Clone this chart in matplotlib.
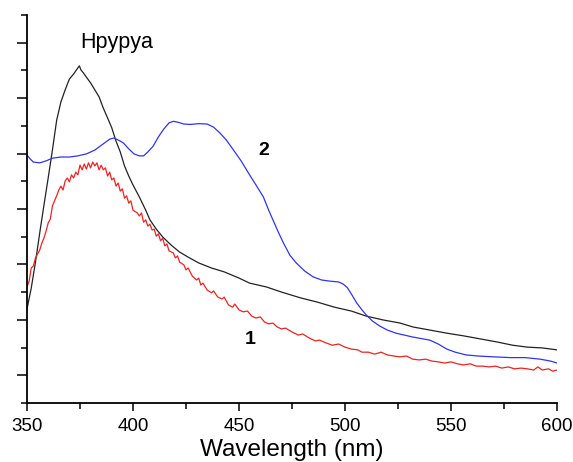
import numpy as np
import matplotlib
matplotlib.use("Agg")
import matplotlib.pyplot as plt
from matplotlib.ticker import MultipleLocator

plt.rcParams['font.family'] = ['Liberation Sans', 'DejaVu Sans']

# curve 0 - black (reference sample), intensity in arbitrary units
wl_black = [350, 352, 354, 356, 358, 360, 362, 364, 366, 368, 370, 372, 373, 374.7, 375.5,
            376.6, 378, 380, 382, 384, 386, 388, 390, 392, 394, 396, 398, 400, 403, 406,
            408, 411, 414, 418, 422, 426, 431, 437, 443, 450, 455, 463, 470, 479, 487,
            495, 503, 510, 518, 526, 532, 540, 548, 556, 564, 572, 579, 586, 593, 600]
int_black = [24.2, 29.6, 36.3, 43.8, 51.0, 58.0, 65.2, 72.9, 77.6, 80.7, 83.5, 84.8, 85.6, 86.9, 85.8,
             85.1, 84.0, 82.5, 80.7, 78.9, 76.0, 73.5, 70.9, 67.5, 64.7, 61.1, 58.5, 56.2, 53.1, 49.7,
             47.2, 44.8, 42.8, 40.7, 38.9, 37.6, 36.1, 34.8, 33.8, 32.2, 30.9, 29.9, 28.6, 27.1, 26.0,
             24.7, 23.7, 22.4, 21.4, 20.6, 19.6, 18.8, 18.0, 17.3, 16.5, 15.7, 14.9, 14.4, 14.2, 13.7]

# curve 2 - blue
wl_blue = [350, 351.5, 353, 356, 359, 362, 366, 370, 374, 378, 382, 386, 389, 391, 393,
           395.5, 398, 400.5, 403, 405, 407, 409.5, 412, 414.5, 417, 419, 421, 424, 427, 431,
           435, 438, 441, 444, 447, 451, 455, 458, 461.5, 464, 466, 468.5, 471, 474, 477,
           481, 485, 489, 493, 497, 499, 501, 503, 505.5, 508, 510, 513, 516.5, 520, 524,
           528, 532, 536, 540, 544, 548, 552, 557, 563, 570, 578, 585, 592, 597, 600]
int_blue = [63.9, 62.9, 62.1, 61.9, 62.4, 63.1, 63.4, 63.4, 63.7, 64.2, 65.2, 66.8, 68.0, 68.3, 67.8,
            67.0, 65.5, 64.2, 63.7, 63.7, 64.7, 66.2, 68.6, 70.6, 72.2, 72.6, 72.4, 71.9, 71.8, 72.0,
            71.9, 71.1, 69.6, 67.8, 65.5, 62.4, 58.8, 56.2, 53.1, 49.7, 47.2, 44.1, 41.2, 38.1, 36.1,
            34.0, 32.5, 31.7, 31.4, 31.2, 30.7, 29.8, 28.1, 25.8, 24.0, 22.7, 21.1, 19.8, 18.8, 18.0,
            17.5, 17.0, 16.6, 16.2, 15.2, 13.9, 13.1, 12.4, 12.1, 11.9, 11.7, 11.7, 11.3, 10.8, 10.3]

# curve 1 - red (noisy)
wl_red = [350, 351, 352, 353, 354, 355, 356, 357, 358, 359, 360, 361, 362, 363, 364,
          365, 366, 367, 368, 369, 370, 371, 372, 373, 374, 375, 376, 377, 378, 379,
          380, 381, 382, 383, 384, 385, 386, 387, 388, 389, 390, 391, 392, 393, 394,
          395, 396, 397, 398, 399, 400, 402, 403, 404, 405, 406, 407, 408, 409, 410,
          411, 412, 413, 414, 415, 416, 417, 419, 420, 421, 422, 424, 425, 426, 428,
          430, 431, 432, 433, 435, 437, 438, 440, 442, 443, 445, 447, 448, 450, 452,
          454, 456, 458, 460, 462, 464, 466, 468, 470, 472, 475, 478, 480, 483, 486,
          488, 491, 494, 497, 500, 503, 506, 508, 511, 514, 517, 520, 523, 526, 529,
          532, 535, 538, 541, 544, 547, 550, 553, 556, 559, 562, 565, 568, 571, 574,
          577, 580, 583, 586, 589, 591, 593, 596, 598, 600]
int_red = [29.9, 31.4, 34.8, 35.3, 37.4, 38.4, 39.4, 41.2, 42.5, 44.3, 46.4, 47.4, 50.8, 52.1, 53.4,
           54.9, 55.9, 54.9, 57.2, 58.0, 57.0, 58.8, 58.0, 59.5, 58.8, 61.3, 60.1, 61.6, 60.3, 61.9,
           60.6, 62.1, 61.1, 61.9, 60.1, 61.3, 60.1, 60.6, 58.5, 59.5, 57.5, 58.0, 55.9, 56.7, 54.6,
           55.2, 52.8, 53.4, 51.5, 52.1, 49.7, 49.0, 48.2, 49.0, 46.6, 47.2, 45.6, 46.1, 44.6, 44.8,
           43.0, 43.6, 41.8, 42.5, 40.5, 41.0, 39.2, 38.7, 37.4, 37.9, 36.3, 35.6, 34.3, 34.8, 32.7,
           31.7, 32.2, 30.4, 30.9, 29.1, 28.4, 28.9, 27.3, 26.8, 27.3, 25.3, 24.7, 25.5, 24.0, 23.5,
           23.7, 22.4, 21.9, 22.2, 20.9, 20.4, 20.6, 19.6, 19.1, 19.3, 18.3, 17.5, 17.8, 16.8, 16.0,
           16.2, 15.5, 14.9, 15.2, 14.4, 13.9, 13.7, 13.1, 13.1, 12.6, 13.1, 12.4, 12.1, 11.9, 12.1,
           11.3, 11.1, 11.3, 10.8, 10.6, 10.3, 10.6, 10.1, 9.8, 10.1, 9.5, 9.5, 9.3, 9.5, 9.0,
           9.3, 8.8, 9.0, 8.8, 8.5, 9.3, 8.5, 8.8, 8.2, 8.5]

fig = plt.figure(figsize=(5.73, 4.62), dpi=100)
ax = fig.add_axes([0.0471, 0.1277, 0.925, 0.8398])

ax.plot(wl_black, int_black, color='#222222', lw=0.9)
ax.plot(wl_blue, int_blue, color='#3333ee', lw=0.9)
ax.plot(wl_red, int_red, color='#ee2222', lw=0.9)

ax.set_xlim(350, 600)
ax.set_ylim(0, 100)
ax.xaxis.set_major_locator(MultipleLocator(50))
ax.xaxis.set_minor_locator(MultipleLocator(25))
step = 100 / 14
ax.set_yticks([step * k for k in range(1, 14, 2)])
ax.set_yticks([step * k for k in range(0, 15, 2)], minor=True)
ax.set_yticklabels([])

for s in ['top', 'right']:
    ax.spines[s].set_visible(False)
for s in ['left', 'bottom']:
    ax.spines[s].set_linewidth(1.3)

ax.tick_params(axis='x', which='major', direction='out', length=6, width=1.1, labelsize=13.5, pad=5)
ax.tick_params(axis='x', which='minor', direction='out', length=4, width=1.1)
ax.tick_params(axis='y', which='major', direction='out', length=7, width=1.1)
ax.tick_params(axis='y', which='minor', direction='out', length=4.5, width=1.1)

ax.set_xlabel('Wavelength (nm)', fontsize=17.5, labelpad=3)

# annotations
ax.text(392.5, (403 - 42) / 3.88, 'Hpypya', fontsize=15.5, ha='center', va='center')
ax.text(461.8, (403 - 150) / 3.88, '2', fontsize=14, fontweight='bold', ha='center', va='center')
ax.text(455.2, (403 - 339) / 3.88, '1', fontsize=14, fontweight='bold', ha='center', va='center')

fig.savefig('out.png', dpi=100)
